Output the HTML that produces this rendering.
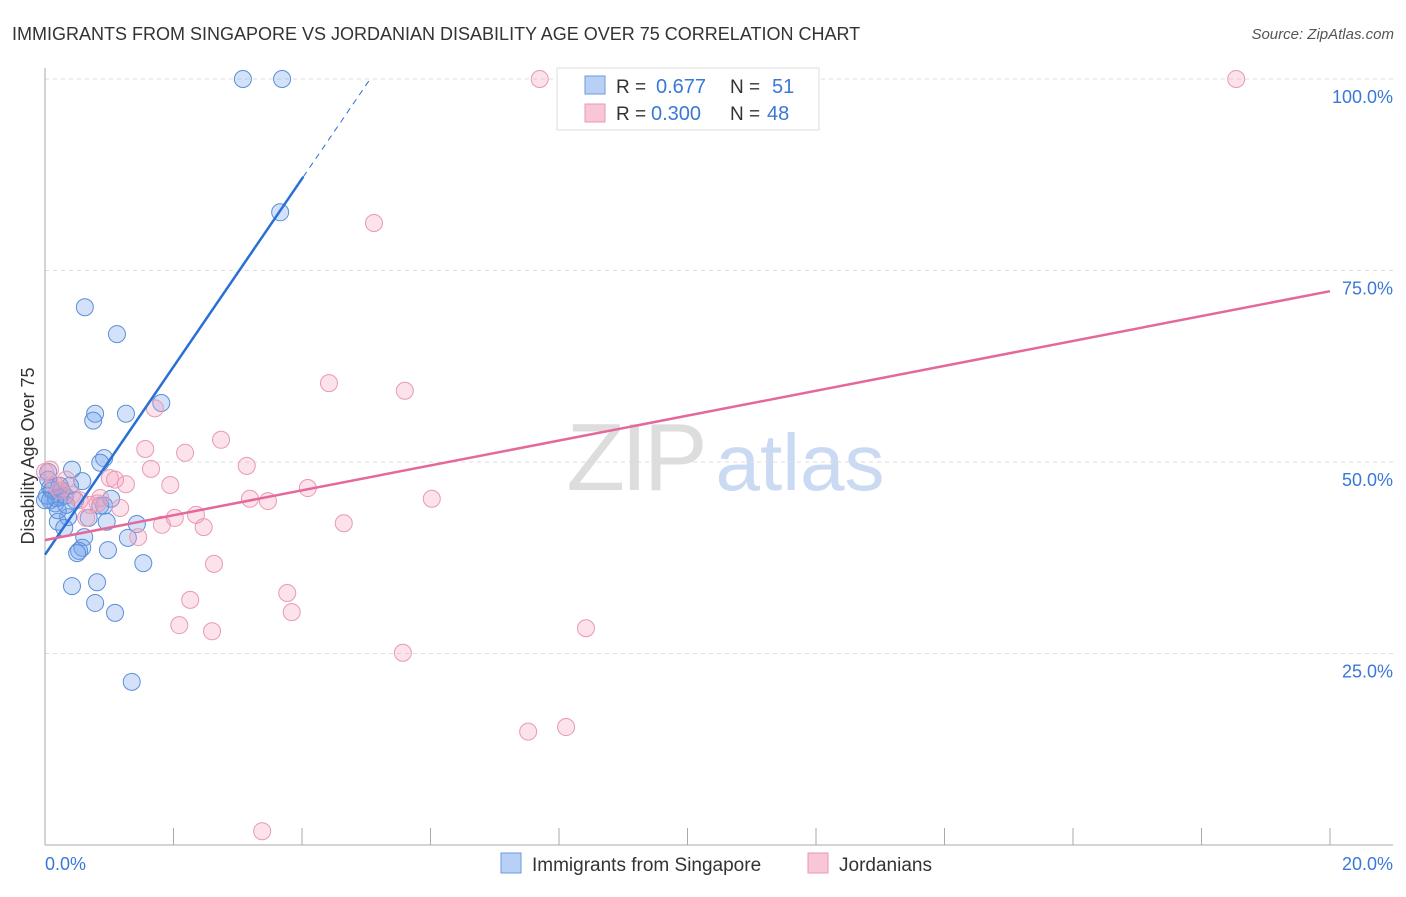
<!DOCTYPE html>
<html><head><meta charset="utf-8"><style>
body{margin:0;background:#fff;font-family:"Liberation Sans",sans-serif;}
svg text{font-family:"Liberation Sans",sans-serif;}
</style></head><body>
<svg id="chart" width="1406" height="892">
<text x="12" y="40" font-size="18" fill="#333">IMMIGRANTS FROM SINGAPORE VS JORDANIAN DISABILITY AGE OVER 75 CORRELATION CHART</text>
<text x="1394" y="39" font-size="15" fill="#555" font-style="italic" text-anchor="end">Source: ZipAtlas.com</text>
<g>
<text x="635" y="490" font-size="96" fill="#ddd" text-anchor="middle" font-family="Liberation Serif" letter-spacing="-4">ZIP</text>
<text x="800" y="490" font-size="80" fill="#c9daf2" text-anchor="middle">atlas</text>
</g>
<g id="grid"></g>
<g id="axes"></g>
<g id="marks"></g>
<text x="34" y="456" font-size="18" fill="#333" text-anchor="middle" transform="rotate(-90 34 456)">Disability Age Over 75</text>
<g>
<rect x="557" y="68" width="262" height="62" fill="#fff" stroke="#ddd"/>
<rect x="585" y="76" width="20" height="18" fill="#b8d0f5" stroke="#6b9ae0"/>
<text x="616" y="93" font-size="19" fill="#333">R =</text><text x="656" y="93" font-size="20" fill="#3a78d8">0.677</text>
<text x="730" y="93" font-size="19" fill="#333">N =</text><text x="772" y="93" font-size="20" fill="#3a78d8">51</text>
<rect x="585" y="104" width="20" height="18" fill="#f8c6d6" stroke="#e89ab3"/>
<text x="616" y="120" font-size="19" fill="#333">R =</text><text x="651" y="120" font-size="20" fill="#3a78d8">0.300</text>
<text x="730" y="120" font-size="19" fill="#333">N =</text><text x="767" y="120" font-size="20" fill="#3a78d8">48</text>
</g>
<g>
<rect x="501" y="853" width="20" height="20" fill="#b8d0f5" stroke="#6b9ae0"/>
<text x="532" y="871" font-size="19" fill="#333">Immigrants from Singapore</text>
<rect x="808" y="853" width="20" height="20" fill="#f8c6d6" stroke="#e89ab3"/>
<text x="839" y="871" font-size="19" fill="#333">Jordanians</text>
</g>
</svg>
<script>
const xTicks=[0,2,4,6,8,10,12,14,16,18,20];
const yTicks=[25,50,75,100];
const yTickLabels=["25.0%","50.0%","75.0%","100.0%"];
const blueX=[3.08,3.69,3.66,0.62,1.12,1.81,0.78,1.26,0.75,0.92,0.86,0.42,0.05,0.58,0.08,0.26,0.03,0.23,0.16,0.31,1.03,0.86,0.92,0.68,0.36,0.20,0.96,1.43,0.30,0.61,1.29,0.58,0.53,0.50,0.98,1.53,0.81,0.42,0.78,1.09,1.35,0.05,0.11,0.17,0.23,0.39,0.47,0,0.08,0.20,0.33];
const blueY=[100,100,82.6,70.2,66.7,57.7,56.3,56.3,55.4,50.5,49.9,49.0,48.7,47.5,46.6,46.3,45.6,45.4,44.6,45.6,45.2,44.3,44.3,42.7,42.8,42.2,42.2,41.9,41.4,40.2,40.1,38.8,38.4,38.1,38.5,36.8,34.3,33.8,31.6,30.3,21.3,47.7,46.3,45.3,46.9,46.9,45.0,45.0,45.0,43.7,44.4];
const pinkX=[7.70,18.54,5.12,4.42,5.60,1.71,2.74,1.56,2.18,3.14,1.65,0,1.95,4.09,1.26,1.01,1.09,3.19,3.47,6.02,0.82,1.17,0.23,0.33,0.42,2.35,2.02,1.82,2.47,1.45,4.65,0.64,2.63,3.77,2.26,3.84,2.09,2.60,8.42,5.57,7.52,8.11,3.38,0.08,0.16,0.54,0.70,0.86];
const pinkY=[100,100,81.2,60.3,59.3,57.0,52.9,51.7,51.2,49.5,49.1,48.7,47.0,46.6,47.1,47.9,47.7,45.2,44.9,45.2,44.6,44.0,46.3,47.7,45.7,43.1,42.7,41.8,41.5,40.2,42.0,42.7,36.7,32.9,32.0,30.4,28.7,27.9,28.3,25.1,14.8,15.4,1.8,49.0,47.0,45.0,44.4,45.3];
const blueFit=[37.9,12.27];   // intercept, slope
const pinkFit=[39.8,1.625];
const blueSolidEnd=4.02, blueDashEnd=5.06;

const NS="http://www.w3.org/2000/svg";
const sx=v=>45+v*64.25;
const sy=v=>845-v*7.66;
function mk(tag,attrs,parent){const e=document.createElementNS(NS,tag);for(const k in attrs)e.setAttribute(k,attrs[k]);parent.appendChild(e);return e;}
const grid=document.getElementById('grid'),axes=document.getElementById('axes'),marks=document.getElementById('marks');
yTicks.forEach((t,i)=>{
  const l=mk('line',{x1:45,x2:1393,y1:sy(t),y2:sy(t),stroke:'#ddd','stroke-dasharray':'4,4'},grid);
  
  
  const tx=mk('text',{x:1393,y:sy(t)+24,'font-size':18,fill:'#3a78d8','text-anchor':'end'},axes);
  tx.textContent=yTickLabels[i];
  
  
});
let a=mk('line',{x1:45,x2:45,y1:68,y2:845,stroke:'#aaa'},axes);


a=mk('line',{x1:45,x2:1393,y1:845,y2:845,stroke:'#aaa'},axes);


xTicks.forEach(t=>{
  const l=mk('line',{x1:sx(t),x2:sx(t),y1:828,y2:845,stroke:'#aaa'},axes);
  
  
});
let t0=mk('text',{x:45,y:870,'font-size':18,fill:'#3a78d8'},axes);t0.textContent=xTicks[0].toFixed(1)+'%';


let t1=mk('text',{x:1393,y:870,'font-size':18,fill:'#3a78d8','text-anchor':'end'},axes);t1.textContent=xTicks[xTicks.length-1].toFixed(1)+'%';



blueX.forEach((x,i)=>{
  const c=mk('circle',{cx:sx(x),cy:sy(blueY[i]),r:8.5,fill:'rgba(110,160,235,0.3)',stroke:'#5b8fd8','stroke-width':1},marks);
  
  
});
pinkX.forEach((x,i)=>{
  const c=mk('circle',{cx:sx(x),cy:sy(pinkY[i]),r:8.5,fill:'rgba(245,160,190,0.3)',stroke:'#e89ab3','stroke-width':1},marks);
  
  
});
let ln=mk('line',{x1:sx(0),y1:sy(blueFit[0]),x2:sx(blueSolidEnd),y2:sy(blueFit[0]+blueFit[1]*blueSolidEnd),stroke:'#2a6fd6','stroke-width':2.5},marks);


ln=mk('line',{x1:sx(blueSolidEnd),y1:sy(blueFit[0]+blueFit[1]*blueSolidEnd),x2:sx(blueDashEnd),y2:sy(blueFit[0]+blueFit[1]*blueDashEnd),stroke:'#2a6fd6','stroke-width':1,'stroke-dasharray':'6,5'},marks);


ln=mk('line',{x1:sx(0),y1:sy(pinkFit[0]),x2:sx(20),y2:sy(pinkFit[0]+pinkFit[1]*20),stroke:'#e4689a','stroke-width':2.5},marks);


</script>
</body></html>
